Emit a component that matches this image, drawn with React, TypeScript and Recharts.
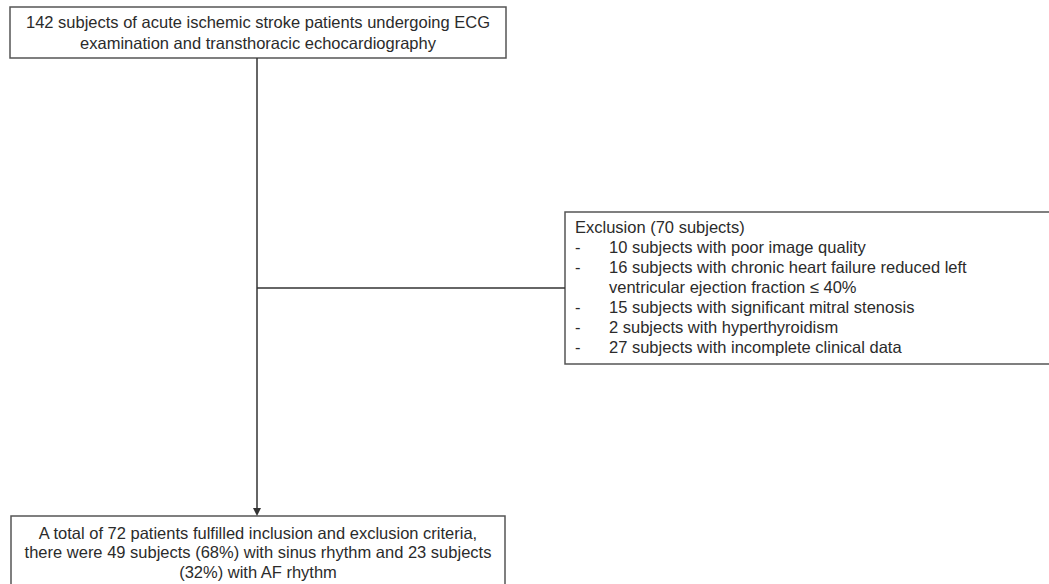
import React from 'react';
import { ComposedChart, XAxis, YAxis, Scatter, ReferenceArea, ReferenceLine } from 'recharts';

// ---- content ----
const topBoxLines: string[] = [
  '142 subjects of acute ischemic stroke patients undergoing ECG',
  'examination and transthoracic echocardiography',
];
const exclusionTitle = 'Exclusion (70 subjects)';
const exclusionItems: string[][] = [
  ['10 subjects with poor image quality'],
  ['16 subjects with chronic heart failure reduced left', 'ventricular ejection fraction ≤ 40%'],
  ['15 subjects with significant mitral stenosis'],
  ['2 subjects with hyperthyroidism'],
  ['27 subjects with incomplete clinical data'],
];
const bottomBoxLines: string[] = [
  'A total of 72 patients fulfilled inclusion and exclusion criteria,',
  'there were 49 subjects (68%) with sinus rhythm and 23 subjects',
  '(32%) with AF rhythm',
];

// ---- layout ----
const W = 1049;
const H = 584;
const TOP = { x1: 10, x2: 506, y1: 7, y2: 58, first: 22, lh: 21 };
const EXC = { x1: 565, x2: 1080, y1: 212, y2: 364, first: 227, lh: 20, textX: 575, indentX: 609 };
const BOT = { x1: 11, x2: 505, y1: 516, y2: 610, first: 533, lh: 19.5 };
const STEM_X = 257;
const BRANCH_Y = 288;
const ARROW_H = 8;

const FONT = '"Liberation Sans", Arial, sans-serif';
const FONT_SIZE = 16.5;
const TEXT_COLOR = '#2b2b2b';
const BOX_STROKE = '#555';
const LINE_STROKE = '#333';

type Mark = { x: number; y: number; text: string; anchor: 'start' | 'middle' };

const buildMarks = (): Mark[] => {
  const marks: Mark[] = [];
  const topCx = (TOP.x1 + TOP.x2) / 2;
  topBoxLines.forEach((t, i) => marks.push({ x: topCx, y: TOP.first + i * TOP.lh, text: t, anchor: 'middle' }));
  marks.push({ x: EXC.textX, y: EXC.first, text: exclusionTitle, anchor: 'start' });
  let row = 1;
  exclusionItems.forEach((item) => {
    item.forEach((t, j) => {
      const y = EXC.first + row * EXC.lh;
      if (j === 0) marks.push({ x: EXC.textX, y, text: '-', anchor: 'start' });
      marks.push({ x: EXC.indentX, y, text: t, anchor: 'start' });
      row += 1;
    });
  });
  const botCx = (BOT.x1 + BOT.x2) / 2;
  bottomBoxLines.forEach((t, i) => marks.push({ x: botCx, y: BOT.first + i * BOT.lh, text: t, anchor: 'middle' }));
  return marks;
};

const textMarks = buildMarks();
const arrowMarks = [{ x: STEM_X, y: BOT.y1 }];

const TextShape = (props: any) => {
  const { cx, cy, payload } = props;
  return (
    <text
      x={cx}
      y={cy}
      dy="0.36em"
      textAnchor={payload.anchor}
      fontFamily={FONT}
      fontSize={FONT_SIZE}
      fill={TEXT_COLOR}
    >
      {payload.text}
    </text>
  );
};

const ArrowShape = (props: any) => {
  const { cx, cy } = props;
  return <path d={`M${cx - 4},${cy - ARROW_H} L${cx + 4},${cy - ARROW_H} L${cx},${cy} Z`} fill={LINE_STROKE} />;
};

export default function App() {
  return (
    <div style={{ position: 'absolute', left: 0, top: 0, width: W, height: H, background: '#fff' }}>
      <ComposedChart width={W} height={H} margin={{ top: 0, right: 0, bottom: 0, left: 0 }}>
        <XAxis type="number" dataKey="x" domain={[0, W]} hide allowDataOverflow />
        <YAxis type="number" dataKey="y" domain={[0, H]} reversed hide allowDataOverflow />
        <ReferenceArea x1={TOP.x1} x2={TOP.x2} y1={TOP.y1} y2={TOP.y2} fill="#fff" fillOpacity={1} stroke={BOX_STROKE} strokeWidth={1.5} ifOverflow="visible" />
        <ReferenceArea x1={EXC.x1} x2={EXC.x2} y1={EXC.y1} y2={EXC.y2} fill="#fff" fillOpacity={1} stroke={BOX_STROKE} strokeWidth={1.5} ifOverflow="visible" />
        <ReferenceArea x1={BOT.x1} x2={BOT.x2} y1={BOT.y1} y2={BOT.y2} fill="#fff" fillOpacity={1} stroke={BOX_STROKE} strokeWidth={1.5} ifOverflow="visible" />
        <ReferenceLine segment={[{ x: STEM_X, y: TOP.y2 }, { x: STEM_X, y: BOT.y1 - ARROW_H }]} stroke={LINE_STROKE} strokeWidth={1.5} ifOverflow="visible" />
        <ReferenceLine segment={[{ x: STEM_X, y: BRANCH_Y }, { x: EXC.x1, y: BRANCH_Y }]} stroke={LINE_STROKE} strokeWidth={1.5} ifOverflow="visible" />
        <Scatter data={arrowMarks} dataKey="y" shape={ArrowShape} isAnimationActive={false} />
        <Scatter data={textMarks} dataKey="y" shape={TextShape} isAnimationActive={false} />
      </ComposedChart>
    </div>
  );
}
